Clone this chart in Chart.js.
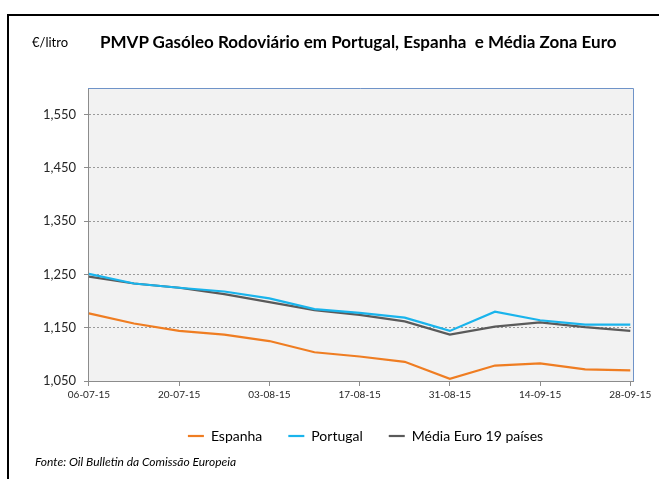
<!DOCTYPE html>
<html>
<head>
<meta charset="utf-8">
<script src="https://cdn.jsdelivr.net/npm/chart.js@4/dist/chart.umd.min.js"></script>
<style>
  html, body { margin:0; padding:0; background:#fff; overflow:hidden; }
  #wrap { position:relative; width:659px; height:479px; }
  #frame { position:absolute; left:7px; top:14px; width:700px; height:600px; border-top:2px solid #000; border-left:2px solid #000; }
  canvas { position:absolute; left:0; top:0; }
  .txt { position:absolute; font-family: Lato, "Open Sans", sans-serif; color:#000; white-space:nowrap; }
  #unit { left:32px; top:34px; font-size:13px; }
  #title { left:100px; top:31px; font-size:17px; font-weight:bold; }
  #src { left:35px; top:454px; font-size:12px; font-style:italic; }
</style>
</head>
<body>
<div id="wrap">
  <div id="frame"></div>
  <canvas id="c" width="659" height="479"></canvas>
  <div class="txt" id="unit">€/litro</div>
  <div class="txt" id="title">PMVP Gasóleo Rodoviário em Portugal, Espanha&nbsp; e Média Zona Euro</div>
  <div class="txt" id="src">Fonte: Oil Bulletin da Comissão Europeia</div>
</div>
<script>
const dates = ['06-07-15','13-07-15','20-07-15','27-07-15','03-08-15','10-08-15','17-08-15','24-08-15','31-08-15','07-09-15','14-09-15','21-09-15','28-09-15'];
const xTickIdx = [0,2,4,6,8,10,12];
const yTicks = [1.05,1.15,1.25,1.35,1.45,1.55];
const espanha  = [1.177,1.158,1.144,1.137,1.125,1.104,1.096,1.086,1.054,1.079,1.083,1.072,1.070];
const portugal = [1.251,1.233,1.225,1.218,1.205,1.185,1.178,1.169,1.144,1.180,1.164,1.156,1.156];
const media    = [1.246,1.233,1.225,1.213,1.198,1.183,1.174,1.162,1.137,1.152,1.160,1.151,1.144];

const toPts = arr => arr.map((v,i) => ({x:i, y:v}));

const areaPlugin = {
  id:'areaPlugin',
  afterLayout(chart) {
    const lg = chart.legend;
    if (lg) { const dx = 49; lg.left += dx; lg.right += dx; }
  },
  beforeDraw(chart) {
    const {ctx, chartArea:a} = chart;
    ctx.save();
    ctx.fillStyle = '#f2f2f2';
    ctx.fillRect(a.left, a.top, a.right-a.left, a.bottom-a.top);
    ctx.restore();
  },
  afterDraw(chart) {
    const {ctx, chartArea:a} = chart;
    ctx.save();
    ctx.strokeStyle = '#6f93c8';
    ctx.lineWidth = 1;
    ctx.beginPath();
    ctx.moveTo(a.left, a.top+0.5);
    ctx.lineTo(a.right+0.5, a.top+0.5);
    ctx.lineTo(a.right+0.5, a.bottom);
    ctx.stroke();
    ctx.restore();
  }
};

new Chart(document.getElementById('c'), {
  type:'line',
  data:{
    datasets:[
      {label:'Espanha', data:toPts(espanha), borderColor:'#ef7d22', backgroundColor:'#ef7d22', borderWidth:2.2, pointRadius:0, tension:0},
      {label:'Portugal', data:toPts(portugal), borderColor:'#1ab4ec', backgroundColor:'#1ab4ec', borderWidth:2.2, pointRadius:0, tension:0},
      {label:'Média Euro 19 países', data:toPts(media), borderColor:'#5a5a5a', backgroundColor:'#5a5a5a', borderWidth:2.2, pointRadius:0, tension:0}
    ]
  },
  options:{
    responsive:false,
    animation:false,
    layout:{padding:{top:88, right:26, left:0, bottom:26}},
    plugins:{
      tooltip:{enabled:false},
      legend:{
        position:'bottom',
        labels:{
          usePointStyle:true, pointStyle:'line', pointStyleWidth:16,
          padding:26, color:'#000',
          font:{family:'Lato, "Open Sans", sans-serif', size:14}
        }
      }
    },
    scales:{
      x:{
        type:'linear', min:-0.02, max:12.06,
        afterBuildTicks(s){ s.ticks = xTickIdx.map(v=>({value:v})); },
        afterFit(s){ s.height = 22; },
        grid:{drawOnChartArea:false, drawTicks:true, tickLength:5, color:'#8c8c8c'},
        border:{color:'#8c8c8c', width:1},
        ticks:{
          autoSkip:false, maxRotation:0, padding:3, color:'#262626',
          font:{family:'Lato, "Open Sans", sans-serif', size:10},
          callback:(v)=>dates[v]
        }
      },
      y:{
        min:1.05, max:1.6,
        afterBuildTicks(s){ s.ticks = yTicks.map(v=>({value:v})); },
        afterFit(s){ s.width = 88; },
        grid:{color:'#9a9a9a', lineWidth:1, tickLength:4, tickBorderDash:[], tickColor:'#8c8c8c'},
        border:{color:'#8c8c8c', width:1, dash:[2,2], display:true},
        ticks:{
          padding:8, color:'#262626',
          font:{family:'Lato, "Open Sans", sans-serif', size:13},
          callback:(v)=>v.toFixed(3).replace('.',',')
        }
      }
    }
  },
  plugins:[areaPlugin]
});
</script>
</body>
</html>
